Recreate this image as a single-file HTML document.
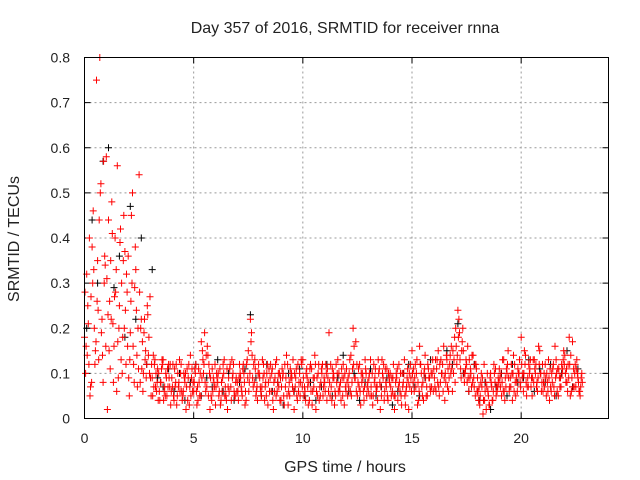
<!DOCTYPE html>
<html><head><meta charset="utf-8"><style>
body{margin:0;background:#fff;}
svg{display:block;font-family:"Liberation Sans",sans-serif;}
</style></head><body>
<svg id="chart" width="640" height="480" viewBox="0 0 640 480">
<rect width="640" height="480" fill="#fff"/>
<text x="345" y="33" font-size="16" text-anchor="middle" fill="#222">Day 357 of 2016, SRMTID for receiver rnna</text>
<text x="345" y="472" font-size="16" text-anchor="middle" fill="#222">GPS time / hours</text>
<text x="0" y="0" font-size="16" text-anchor="middle" fill="#222" transform="translate(19,239) rotate(-90)">SRMTID / TECUs</text>
<g id="grid"></g><g id="ticks"></g><g id="marks"></g>
<rect x="84.5" y="57.5" width="524" height="361" fill="none" stroke="#000" stroke-width="1"/>
</svg>
<script>
const xTicks=[0,5,10,15,20];
const yTicks=[0,0.1,0.2,0.3,0.4,0.5,0.6,0.7,0.8];
const yTickLabels=["0","0.1","0.2","0.3","0.4","0.5","0.6","0.7","0.8"];
const hourStarts=[0,1,2,3,4,5,6,7,8,9,10,11,12,13,14,15,16,17,18,19,20,21,22];
const redA=[
[0.18,0.32,0.12,0.27,0.46,0.15,0.35,0.80,0.22,0.30],
[0.58,0.44,0.35,0.21,0.40,0.56,0.25,0.30,0.45,0.12],
[0.36,0.19,0.50,0.29,0.14,0.54,0.22,0.10,0.15,0.23],
[0.27,0.09,0.12,0.06,0.10,0.08,0.13,0.05,0.11,0.07],
[0.09,0.04,0.12,0.07,0.10,0.05,0.08,0.11,0.03,0.09],
[0.06,0.12,0.04,0.10,0.15,0.19,0.07,0.12,0.05,0.09],
[0.03,0.08,0.11,0.06,0.13,0.04,0.09,0.07,0.10,0.05],
[0.08,0.12,0.06,0.10,0.04,0.15,0.22,0.09,0.13,0.07],
[0.10,0.05,0.12,0.08,0.03,0.09,0.11,0.06,0.13,0.07],
[0.04,0.10,0.07,0.12,0.05,0.09,0.02,0.11,0.06,0.08],
[0.13,0.06,0.09,0.04,0.11,0.07,0.02,0.10,0.05,0.12],
[0.08,0.04,0.19,0.07,0.10,0.05,0.13,0.06,0.09,0.03],
[0.11,0.07,0.14,0.20,0.09,0.05,0.12,0.08,0.04,0.10],
[0.06,0.13,0.03,0.09,0.07,0.11,0.05,0.12,0.08,0.04],
[0.10,0.06,0.02,0.09,0.12,0.05,0.08,0.03,0.11,0.07],
[0.15,0.06,0.10,0.04,0.12,0.08,0.14,0.05,0.09,0.07],
[0.11,0.06,0.15,0.08,0.12,0.04,0.13,0.09,0.16,0.10],
[0.20,0.24,0.13,0.17,0.08,0.12,0.06,0.10,0.14,0.05],
[0.09,0.03,0.07,0.12,0.02,0.05,0.10,0.04,0.08,0.06],
[0.11,0.05,0.13,0.07,0.15,0.09,0.04,0.12,0.08,0.10],
[0.18,0.06,0.14,0.09,0.11,0.05,0.13,0.07,0.16,0.10],
[0.06,0.12,0.08,0.04,0.10,0.07,0.13,0.05,0.09,0.11],
[0.14,0.08,0.18,0.06,0.11,0.07,0.09,0.05,0.08]];
const redB=[
[0.10,0.25,0.05,0.38,0.20,0.75,0.13,0.52,0.08,0.34],
[0.02,0.26,0.48,0.16,0.33,0.09,0.42,0.18,0.37,0.28],
[0.05,0.45,0.12,0.33,0.20,0.08,0.17,0.22,0.12,0.18],
[0.05,0.14,0.07,0.11,0.04,0.13,0.06,0.09,0.12,0.03],
[0.12,0.07,0.05,0.13,0.06,0.10,0.02,0.09,0.14,0.06],
[0.11,0.03,0.08,0.17,0.10,0.06,0.14,0.02,0.11,0.07],
[0.10,0.05,0.04,0.12,0.07,0.02,0.11,0.13,0.06,0.09],
[0.04,0.09,0.11,0.03,0.13,0.08,0.19,0.12,0.05,0.10],
[0.07,0.13,0.04,0.10,0.11,0.06,0.02,0.12,0.08,0.04],
[0.11,0.03,0.14,0.06,0.09,0.13,0.07,0.04,0.10,0.12],
[0.05,0.10,0.03,0.12,0.06,0.14,0.09,0.04,0.11,0.07],
[0.12,0.09,0.05,0.11,0.03,0.08,0.10,0.04,0.12,0.07],
[0.05,0.13,0.08,0.16,0.06,0.11,0.03,0.09,0.13,0.07],
[0.10,0.05,0.12,0.07,0.13,0.02,0.10,0.06,0.11,0.09],
[0.05,0.12,0.08,0.04,0.06,0.10,0.13,0.07,0.02,0.09],
[0.08,0.12,0.03,0.16,0.07,0.10,0.05,0.11,0.06,0.13],
[0.07,0.13,0.05,0.10,0.16,0.08,0.11,0.14,0.06,0.18],
[0.12,0.22,0.09,0.15,0.11,0.16,0.09,0.14,0.07,0.11],
[0.04,0.08,0.01,0.06,0.10,0.03,0.07,0.12,0.05,0.09],
[0.07,0.13,0.04,0.10,0.06,0.12,0.14,0.05,0.11,0.08],
[0.09,0.15,0.05,0.12,0.07,0.13,0.10,0.06,0.15,0.08],
[0.10,0.05,0.13,0.07,0.11,0.16,0.06,0.09,0.12,0.15],
[0.08,0.12,0.05,0.17,0.10,0.13,0.06,0.09]];
const redC=[
[0.28,0.14,0.40,0.08,0.33,0.17,0.24,0.50,0.14,0.36],
[0.31,0.15,0.22,0.08,0.28,0.17,0.39,0.10,0.20,0.32],
[0.09,0.26,0.16,0.38,0.07,0.28,0.11,0.19,0.09,0.14],
[0.09,0.05,0.13,0.08,0.06,0.11,0.04,0.10,0.07,0.12],
[0.07,0.11,0.03,0.08,0.12,0.06,0.10,0.04,0.07,0.11],
[0.08,0.06,0.11,0.05,0.13,0.08,0.16,0.10,0.04,0.08],
[0.07,0.10,0.03,0.09,0.05,0.11,0.06,0.04,0.12,0.08],
[0.06,0.10,0.05,0.08,0.12,0.06,0.17,0.07,0.11,0.04],
[0.09,0.07,0.10,0.05,0.08,0.12,0.04,0.09,0.06,0.10],
[0.07,0.05,0.09,0.03,0.11,0.07,0.10,0.05,0.08,0.13],
[0.09,0.04,0.07,0.11,0.03,0.09,0.06,0.12,0.08,0.05],
[0.06,0.11,0.08,0.04,0.09,0.12,0.06,0.08,0.05,0.10],
[0.08,0.10,0.05,0.12,0.17,0.08,0.06,0.10,0.07,0.05],
[0.09,0.07,0.05,0.11,0.04,0.08,0.13,0.04,0.07,0.10],
[0.07,0.09,0.05,0.11,0.08,0.03,0.10,0.06,0.08,0.12],
[0.10,0.09,0.13,0.06,0.10,0.04,0.09,0.12,0.07,0.10],
[0.09,0.11,0.07,0.13,0.06,0.10,0.07,0.12,0.11,0.13],
[0.16,0.18,0.11,0.20,0.10,0.08,0.13,0.07,0.09,0.12],
[0.06,0.05,0.09,0.04,0.07,0.03,0.08,0.06,0.11,0.07],
[0.09,0.08,0.06,0.11,0.09,0.07,0.10,0.08,0.06,0.13],
[0.12,0.10,0.08,0.07,0.13,0.09,0.11,0.08,0.12,0.06],
[0.08,0.09,0.06,0.11,0.08,0.05,0.10,0.11,0.07,0.13],
[0.10,0.06,0.12,0.09,0.07,0.11,0.08,0.07]];
const redD=[
[0.16,0.21,0.07,0.30,0.12,0.26,0.44,0.19,0.57,0.16],
[0.23,0.11,0.41,0.27,0.06,0.20,0.13,0.35,0.24,0.16],
[0.13,0.30,0.08,0.24,0.11,0.20,0.06,0.13,0.25,0.10],
[0.12,0.07,0.10,0.04,0.08,0.12,0.07,0.05,0.09,0.06],
[0.05,0.08,0.10,0.06,0.04,0.09,0.07,0.12,0.05,0.08],
[0.10,0.07,0.05,0.09,0.12,0.14,0.05,0.09,0.06,0.12],
[0.09,0.06,0.08,0.10,0.05,0.07,0.12,0.09,0.05,0.06],
[0.09,0.07,0.12,0.06,0.09,0.10,0.14,0.08,0.06,0.12],
[0.06,0.09,0.07,0.12,0.06,0.10,0.08,0.05,0.10,0.09],
[0.09,0.12,0.05,0.08,0.10,0.06,0.09,0.12,0.05,0.07],
[0.07,0.11,0.08,0.06,0.09,0.12,0.05,0.07,0.10,0.09],
[0.10,0.06,0.12,0.09,0.06,0.10,0.07,0.11,0.09,0.06],
[0.09,0.06,0.11,0.09,0.12,0.07,0.10,0.06,0.11,0.08],
[0.05,0.10,0.08,0.06,0.10,0.07,0.09,0.11,0.05,0.08],
[0.09,0.05,0.10,0.07,0.10,0.07,0.05,0.09,0.10,0.06],
[0.11,0.07,0.08,0.12,0.05,0.11,0.07,0.09,0.10,0.06],
[0.13,0.08,0.12,0.10,0.09,0.14,0.06,0.10,0.15,0.08],
[0.14,0.19,0.15,0.10,0.13,0.09,0.11,0.08,0.12,0.06],
[0.07,0.10,0.04,0.08,0.06,0.09,0.04,0.10,0.07,0.08],
[0.10,0.06,0.09,0.12,0.07,0.10,0.06,0.09,0.10,0.07],
[0.10,0.12,0.07,0.10,0.09,0.08,0.12,0.09,0.10,0.12],
[0.07,0.10,0.09,0.06,0.12,0.09,0.11,0.07,0.10,0.12],
[0.11,0.09,0.14,0.07,0.12,0.10,0.06,0.10]];
const black=[
[0.20,0.44,0.30,0.57],[0.60,0.29,0.36,0.18],[0.47,0.22,0.40,0.12],[0.33,0.09,0.07,0.11],
[0.06,0.10,0.04,0.08],[0.12,0.05,0.09,0.07],[0.13,0.06,0.10,0.04],[0.08,0.11,0.23,0.09],
[0.05,0.12,0.06,0.08],[0.03,0.10,0.06,0.11],[0.05,0.08,0.04,0.07],[0.12,0.05,0.09,0.14],
[0.06,0.10,0.04,0.08],[0.11,0.05,0.07,0.09],[0.03,0.06,0.10,0.12],[0.07,0.05,0.09,0.13],
[0.06,0.10,0.15,0.12],[0.21,0.10,0.06,0.12],[0.04,0.08,0.02,0.07],[0.10,0.05,0.12,0.08],
[0.09,0.13,0.06,0.11],[0.08,0.12,0.05,0.10],[0.15,0.07,0.11]];
const X0=84.5,X1=608.5,Y0=418.5,Y1=57.5;
const xs=v=>X0+(v/24)*(X1-X0);
const ys=v=>Y0-(v/0.8)*(Y0-Y1);
const NS="http://www.w3.org/2000/svg";
const grid=document.getElementById('grid'),ticks=document.getElementById('ticks'),marks=document.getElementById('marks');
function mk(tag,attrs,parent){const e=document.createElementNS(NS,tag);for(const k in attrs)e.setAttribute(k,attrs[k]);parent.appendChild(e);return e;}
xTicks.forEach((t,i)=>{const x=xs(t);
 if(i>0){const g=mk('line',{x1:x,x2:x,y1:Y0,y2:Y1,stroke:'#999','stroke-dasharray':'2,3'},grid);
 
 }
 const tk=mk('line',{x1:x,x2:x,y1:Y0,y2:Y0-6,stroke:'#000'},ticks);
 
 
 const tk2=mk('line',{x1:x,x2:x,y1:Y1,y2:Y1+6,stroke:'#000'},ticks);
 
 
 const lb=mk('text',{x:x,y:443,'font-size':14,'text-anchor':'middle',fill:'#222'},ticks);lb.textContent=String(t);
 
 });
yTicks.forEach((t,i)=>{const y=ys(t);
 if(i>0&&i<yTicks.length-1){const g=mk('line',{x1:X0,x2:X1,y1:y,y2:y,stroke:'#999','stroke-dasharray':'2,3'},grid);
 
 }
 const tk=mk('line',{x1:X0,x2:X0+6,y1:y,y2:y,stroke:'#000'},ticks);
 
 
 const tk2=mk('line',{x1:X1,x2:X1-6,y1:y,y2:y,stroke:'#000'},ticks);
 
 
 const lb=mk('text',{x:70,y:y+5,'font-size':14,'text-anchor':'end',fill:'#222'},ticks);lb.textContent=yTickLabels[i];
 
 });
function series(rows,step,offset,color,name){
 let d='';
 rows.forEach((row,h)=>row.forEach((v,k)=>{const x=xs(hourStarts[h]+offset+k*step),y=ys(v);
  d+=`M${(x-3.5).toFixed(1)} ${y.toFixed(1)}h7M${x.toFixed(1)} ${(y-3.5).toFixed(1)}v7`;}));
 const p=mk('path',{d:d,stroke:color,'stroke-width':1,fill:'none'},marks);
 
 
}
series(black,0.25,0.1,'#000','black-series-points');
series(redA,0.1,0,'#f00','red-series-a-points');
series(redB,0.1,0.05,'#f00','red-series-b-points');
series(redC,0.1,0.025,'#f00','red-series-c-points');
series(redD,0.1,0.075,'#f00','red-series-d-points');
</script>
</body></html>
